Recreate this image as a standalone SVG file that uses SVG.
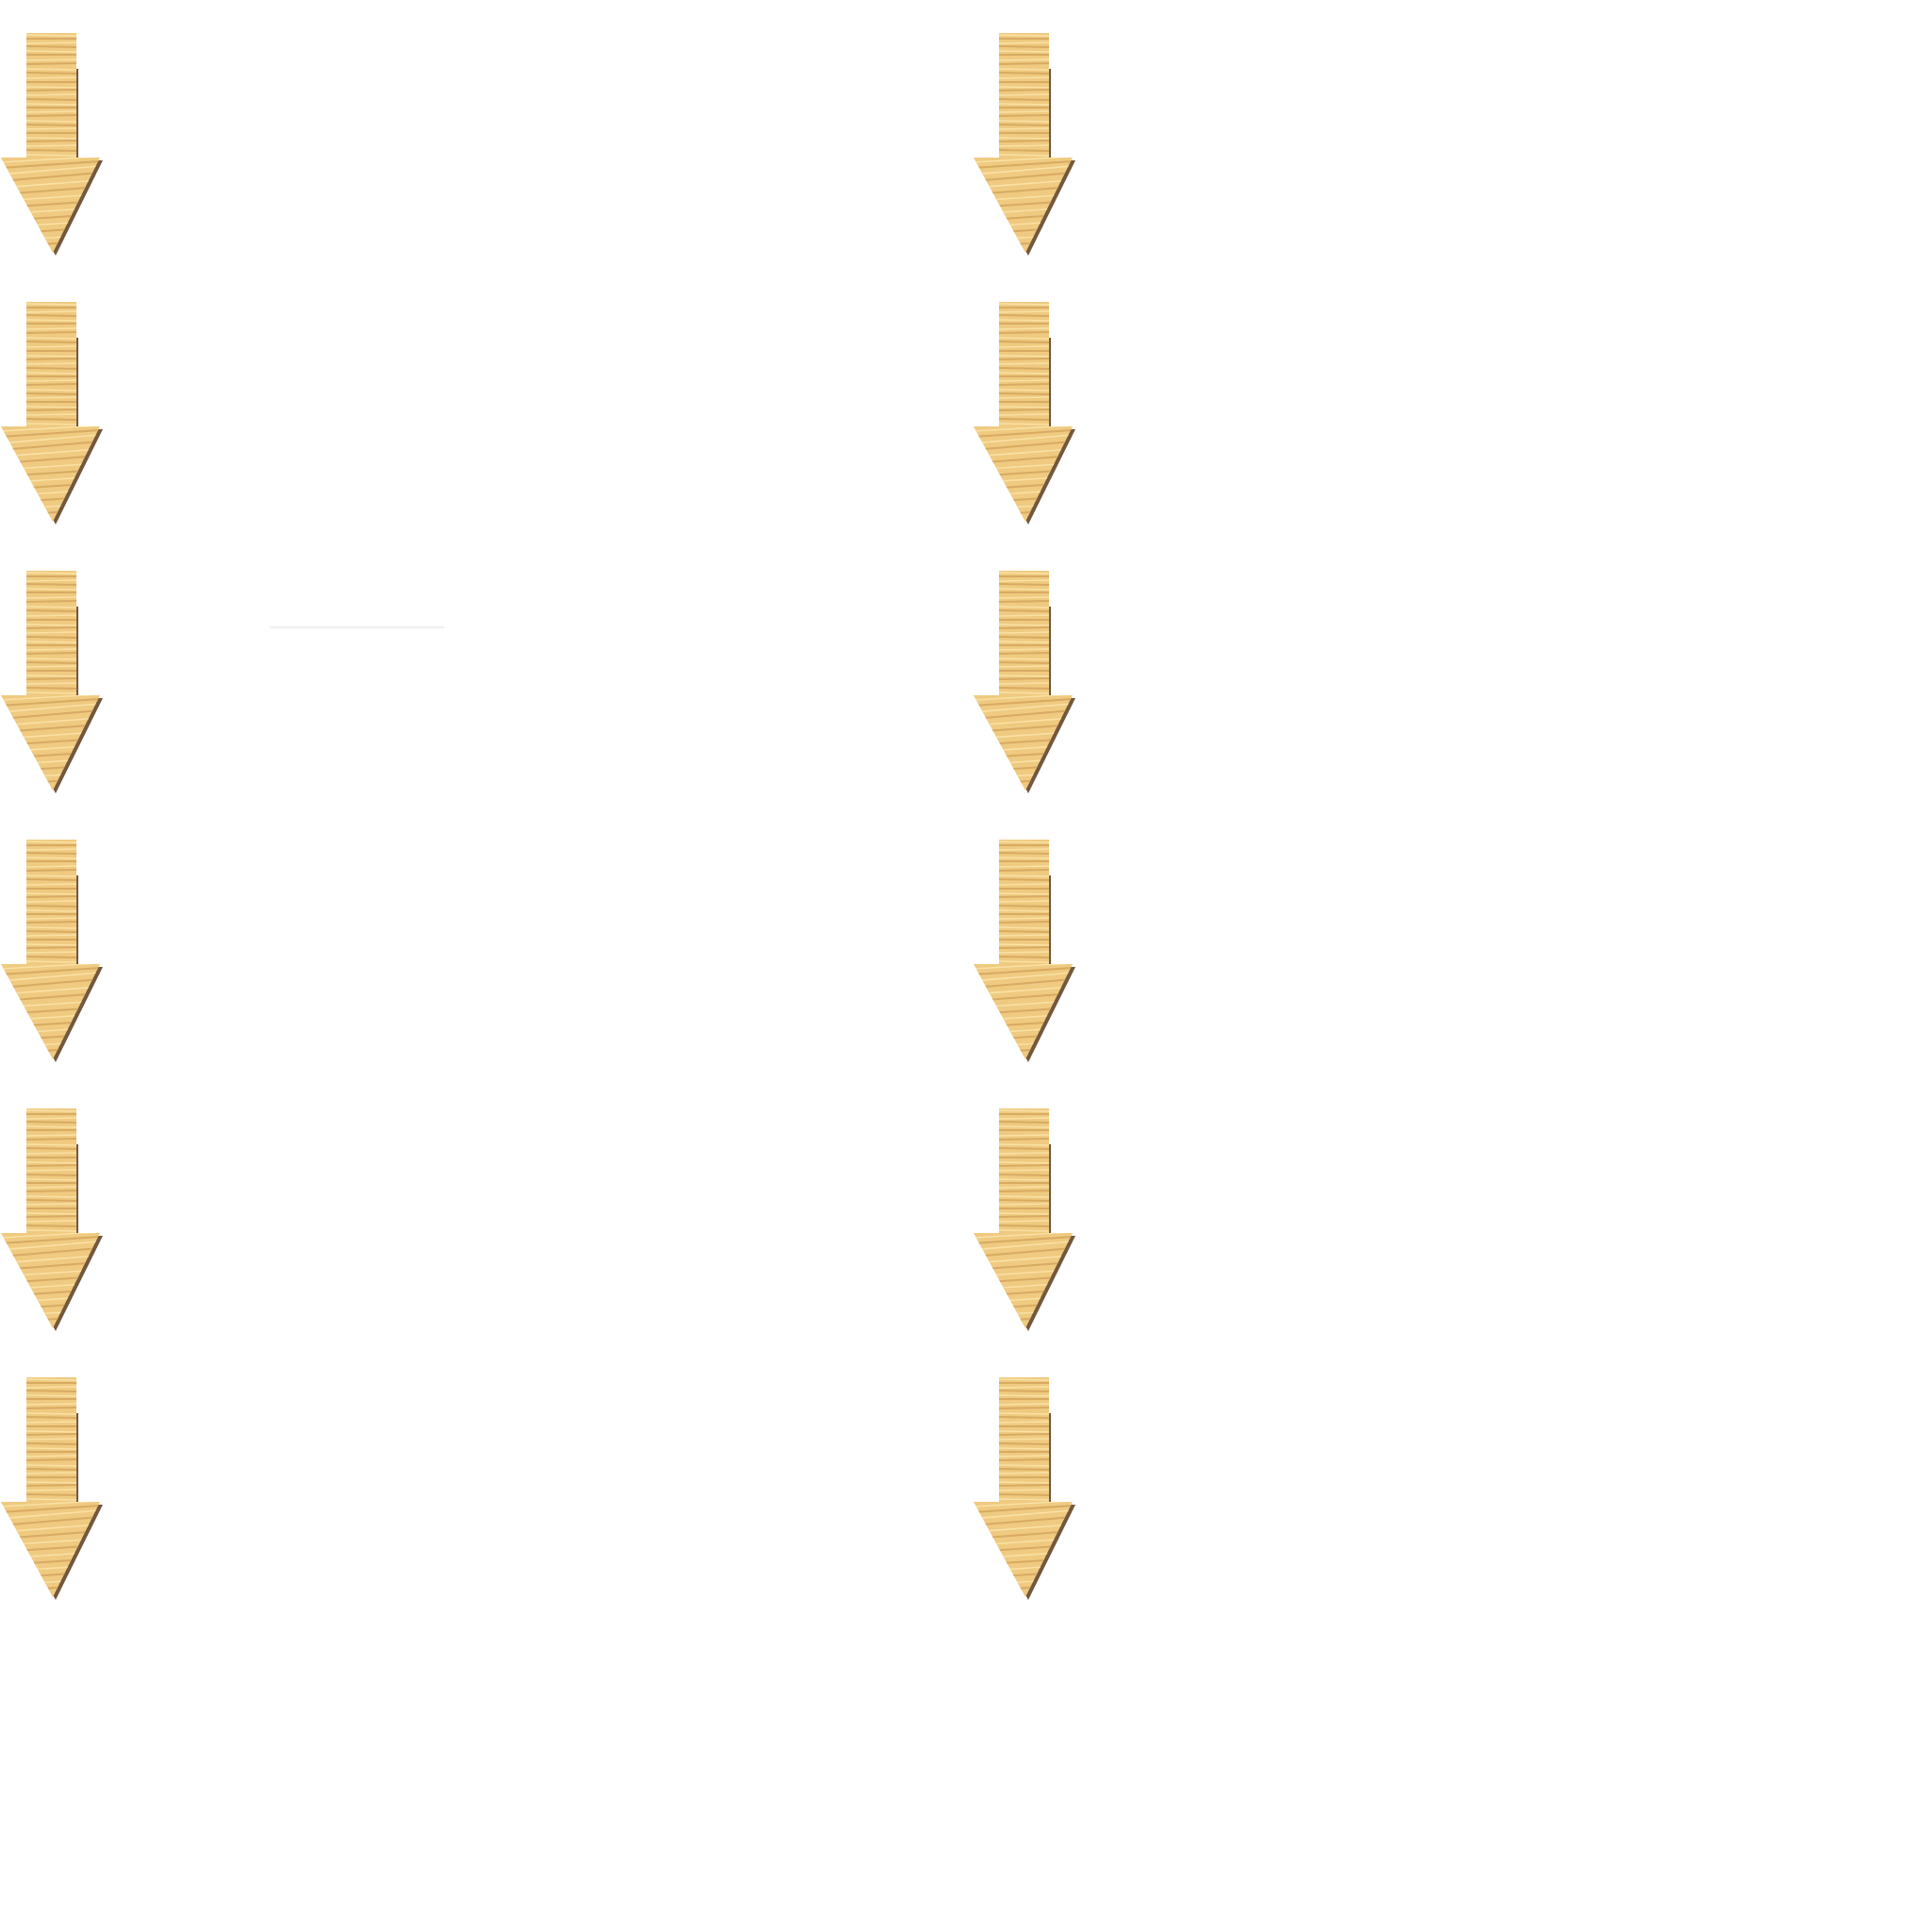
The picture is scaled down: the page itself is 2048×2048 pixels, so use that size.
<svg xmlns="http://www.w3.org/2000/svg" xmlns:xlink="http://www.w3.org/1999/xlink" width="2048" height="2048" viewBox="0 0 2048 2048">
<style>
.shadow{fill:#6b4f33}
.wood{fill:#efca80}
.dk{stroke:#d8aa62;stroke-width:2;fill:none}
.lt{stroke:#f9e1a6;stroke-width:1.6;fill:none}
</style>
<defs>
<clipPath id="arrowClip">
<path d="M28,0 H81 V132 H106 L56,233 L1,132 H28 Z"/>
</clipPath>
<g id="arrow">
<path class="shadow" d="M79,38 H83 V135 H109 L59,236 L4,135 H79 Z" opacity="0.95"/>
<path class="wood" d="M28,0 H81 V132 H106 L56,233 L1,132 H28 Z"/>
<g clip-path="url(#arrowClip)">
<path class="lt" d="M28,2 L81,3 M28,11 L81,10 M28,19 L81,20 M28,29 L81,28 M28,38 L81,39 M28,48 L81,47 M28,57 L81,58 M28,66 L81,65 M28,75 L81,76 M28,84 L81,83 M28,93 L81,94 M28,102 L81,101 M28,111 L81,112 M28,120 L81,119 M28,129 L81,130"/>
<path class="dk" d="M28,6 L81,6 M28,14 L81,15 M28,23 L81,23 M28,33 L81,32 M28,42 L81,43 M28,52 L81,52 M28,61 L81,60 M28,70 L81,71 M28,79 L81,79 M28,88 L81,87 M28,97 L81,98 M28,106 L81,106 M28,115 L81,114 M28,124 L81,125"/>
<path class="lt" d="M0,137 L106,131 M0,150 L106,141 M0,164 L106,156 M0,178 L106,171 M0,192 L106,185 M0,206 L106,199 M0,220 L106,214"/>
<path class="dk" d="M0,143 L106,136 M0,157 L106,148 M0,171 L106,163 M0,185 L106,178 M0,199 L106,192 M0,213 L106,206 M0,227 L106,220"/>
</g>
</g>
</defs>
<rect width="2048" height="2048" fill="#ffffff"/>
<g id="arrow-l1"><use xlink:href="#arrow" transform="translate(0,35)"/></g>
<g id="arrow-l2"><use xlink:href="#arrow" transform="translate(0,320)"/></g>
<g id="arrow-l3"><use xlink:href="#arrow" transform="translate(0,605)"/></g>
<g id="arrow-l4"><use xlink:href="#arrow" transform="translate(0,890)"/></g>
<g id="arrow-l5"><use xlink:href="#arrow" transform="translate(0,1175)"/></g>
<g id="arrow-l6"><use xlink:href="#arrow" transform="translate(0,1460)"/></g>
<g id="arrow-r1"><use xlink:href="#arrow" transform="translate(1031,35)"/></g>
<g id="arrow-r2"><use xlink:href="#arrow" transform="translate(1031,320)"/></g>
<g id="arrow-r3"><use xlink:href="#arrow" transform="translate(1031,605)"/></g>
<g id="arrow-r4"><use xlink:href="#arrow" transform="translate(1031,890)"/></g>
<g id="arrow-r5"><use xlink:href="#arrow" transform="translate(1031,1175)"/></g>
<g id="arrow-r6"><use xlink:href="#arrow" transform="translate(1031,1460)"/></g>
<g id="connectors">
<line x1="286" y1="665" x2="471" y2="665" stroke="#ebebeb" stroke-width="1.5"/>
</g>
</svg>
